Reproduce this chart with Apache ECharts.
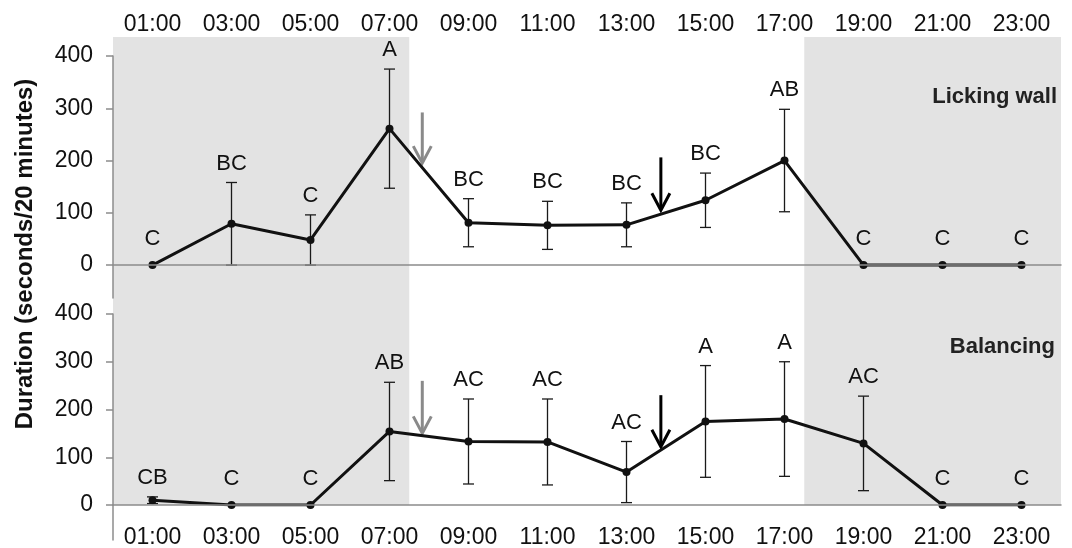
<!DOCTYPE html>
<html>
<head>
<meta charset="utf-8">
<script src="https://cdn.jsdelivr.net/npm/echarts@6/dist/echarts.min.js"></script>
<style>html,body{margin:0;padding:0;background:#fff}#c{width:1072px;height:548px}</style>
</head>
<body>
<div id="c"></div>
<script>
const hours = ['01:00','03:00','05:00','07:00','09:00','11:00','13:00','15:00','17:00','19:00','21:00','23:00'];
const lickMean = [0, 79, 48, 261, 81, 76, 77, 124, 200, 0, 0, 0];
const lickErr  = [0, 79, 48, 114, 46, 46, 42, 52, 98, 0, 0, 0];
const lickLetters = ['C','BC','C','A','BC','BC','BC','BC','AB','C','C','C'];
const balMean = [10, 0, 0, 154, 133, 132, 69, 175, 180, 129, 0, 0];
const balErr  = [7, 0, 0, 103, 89, 90, 64, 117, 120, 99, 0, 0];
const balLetters = ['CB','C','C','AB','AC','AC','AC','A','A','AC','C','C'];
const yTicks = [0, 100, 200, 300, 400];
const nightSpans = [[0, 7.5], [17.5, 24]];
// [hour, from value, to value]
const lickArrows = [[7.83, 292, 195], [13.87, 206, 105]];
const balArrows  = [[7.83, 260, 150], [13.87, 230, 122]];
const arrowColors = ['#8a8a8a', '#000000'];

const FONT = 'Liberation Sans, Arial, sans-serif';
const chart = echarts.init(document.getElementById('c'), null, {renderer: 'canvas'});

function errRender(letters) {
  return function (params, api) {
    const i = api.value(0), m = api.value(1), e = api.value(2);
    const p = api.coord([i, m]);
    const children = [];
    let ty;
    if (e > 0) {
      const t = api.coord([i, m + e]);
      const b = api.coord([i, Math.max(m - e, 0)]);
      const st = {stroke: '#1a1a1a', lineWidth: 1.3};
      children.push({type: 'line', shape: {x1: p[0], y1: t[1], x2: p[0], y2: b[1]}, style: st});
      children.push({type: 'line', shape: {x1: p[0] - 5.5, y1: t[1], x2: p[0] + 5.5, y2: t[1]}, style: st});
      children.push({type: 'line', shape: {x1: p[0] - 5.5, y1: b[1], x2: p[0] + 5.5, y2: b[1]}, style: st});
      ty = t[1] - 19;
    } else {
      ty = p[1] - 26;
    }
    children.push({type: 'text', style: {text: letters[params.dataIndex], x: p[0], y: ty,
      font: '22px ' + FONT, fill: '#111', align: 'center', verticalAlign: 'middle',
      textAlign: 'center', textVerticalAlign: 'middle'}});
    return {type: 'group', children: children};
  };
}

function arrowRender(params, api) {
  const x = api.value(0);
  const a = api.coord([x, api.value(1)]);
  const b = api.coord([x, api.value(2)]);
  const col = arrowColors[params.dataIndex];
  const st = {stroke: col, lineWidth: 3, fill: null, lineJoin: 'miter'};
  return {type: 'group', children: [
    {type: 'line', shape: {x1: a[0], y1: a[1], x2: b[0], y2: b[1] - 2}, style: st},
    {type: 'polyline', shape: {points: [[b[0] - 9, b[1] - 17], [b[0], b[1]], [b[0] + 9, b[1] - 17]]}, style: st}
  ]};
}

function shadeRender(params, api) {
  const p1 = api.coord([api.value(0), 1]);
  const p2 = api.coord([api.value(1), 0]);
  return {type: 'rect', shape: {x: p1[0], y: p1[1], width: p2[0] - p1[0], height: p2[1] - p1[1]},
    style: {fill: '#e3e3e3'}};
}

const axisGray = '#8c8c8c';
function yAxisCfg(grid, min) {
  return {
    type: 'value', gridIndex: grid, min: min, max: 400, z: 5,
    splitLine: {show: false},
    axisLine: {show: true, onZero: false, lineStyle: {color: axisGray, width: 1.5}},
    axisTick: {show: true, inside: false, length: 7, customValues: yTicks, lineStyle: {color: axisGray, width: 1.5}},
    axisLabel: {customValues: yTicks, margin: 20, fontSize: 23, fontFamily: FONT, color: '#111'}
  };
}

const option = {
  animation: false,
  backgroundColor: '#ffffff',
  grid: [
    {left: 113, right: 11, top: 56, bottom: 250, outerBoundsMode: 'none', containLabel: false},
    {left: 113, right: 11, top: 314, bottom: 43, outerBoundsMode: 'none', containLabel: false},
    {left: 113, right: 11, top: 37, bottom: 43, outerBoundsMode: 'none', containLabel: false},
    {left: 113, right: 11, top: 505, bottom: 8, outerBoundsMode: 'none', containLabel: false}
  ],
  xAxis: [
    {type: 'category', gridIndex: 0, data: hours, position: 'top', z: 5,
      axisLine: {show: false, onZero: false}, axisTick: {show: false},
      axisLabel: {interval: 0, margin: 20, fontSize: 23, fontFamily: FONT, color: '#111'}},
    {type: 'category', gridIndex: 0, data: hours, position: 'bottom', z: 5,
      axisLine: {show: true, onZero: true, lineStyle: {color: axisGray, width: 1.5}},
      axisTick: {show: false}, axisLabel: {show: false}},
    {type: 'value', gridIndex: 0, min: 0, max: 24, show: false},
    {type: 'category', gridIndex: 1, data: hours, position: 'bottom', z: 5,
      axisLine: {show: true, onZero: false, lineStyle: {color: axisGray, width: 1.5}},
      axisTick: {show: false},
      axisLabel: {interval: 0, margin: 21, fontSize: 23, fontFamily: FONT, color: '#111'}},
    {type: 'value', gridIndex: 1, min: 0, max: 24, show: false},
    {type: 'value', gridIndex: 2, min: 0, max: 24, show: false},
    {type: 'value', gridIndex: 3, min: 0, max: 24, show: false}
  ],
  yAxis: [
    yAxisCfg(0, -63),
    yAxisCfg(1, 0),
    {type: 'value', gridIndex: 2, min: 0, max: 1, show: false},
    {type: 'value', gridIndex: 3, min: 0, max: 1, z: 5,
      axisLine: {show: true, onZero: false, lineStyle: {color: axisGray, width: 1.5}},
      axisTick: {show: false}, axisLabel: {show: false}, splitLine: {show: false}}
  ],
  graphic: [
    {type: 'text', x: 1057, y: 97, style: {text: 'Licking wall', font: 'bold 22px ' + FONT, fill: '#222',
      align: 'right', verticalAlign: 'middle', textAlign: 'right', textVerticalAlign: 'middle'}, z: 10},
    {type: 'text', x: 1055, y: 347, style: {text: 'Balancing', font: 'bold 22px ' + FONT, fill: '#222',
      align: 'right', verticalAlign: 'middle', textAlign: 'right', textVerticalAlign: 'middle'}, z: 10},
    {type: 'text', x: 25, y: 254, rotation: Math.PI / 2, style: {text: 'Duration (seconds/20 minutes)',
      font: 'bold 24px ' + FONT, fill: '#111', align: 'center', verticalAlign: 'middle',
      textAlign: 'center', textVerticalAlign: 'middle'}, z: 10}
  ],
  series: [
    {type: 'custom', xAxisIndex: 5, yAxisIndex: 2, z: 1, silent: true, renderItem: shadeRender, data: nightSpans, clip: false},
    {type: 'custom', xAxisIndex: 0, yAxisIndex: 0, z: 3, renderItem: errRender(lickLetters),
      data: lickMean.map((m, i) => [i, m, lickErr[i]]), clip: false},
    {type: 'line', xAxisIndex: 0, yAxisIndex: 0, z: 4, data: lickMean, symbol: 'circle', symbolSize: 8,
      lineStyle: {color: '#111', width: 3}, itemStyle: {color: '#111'}},
    {type: 'custom', xAxisIndex: 2, yAxisIndex: 0, z: 4, renderItem: arrowRender, data: lickArrows, clip: false},
    {type: 'custom', xAxisIndex: 3, yAxisIndex: 1, z: 3, renderItem: errRender(balLetters),
      data: balMean.map((m, i) => [i, m, balErr[i]]), clip: false},
    {type: 'line', xAxisIndex: 3, yAxisIndex: 1, z: 4, data: balMean, symbol: 'circle', symbolSize: 8,
      lineStyle: {color: '#111', width: 3}, itemStyle: {color: '#111'}},
    {type: 'custom', xAxisIndex: 4, yAxisIndex: 1, z: 4, renderItem: arrowRender, data: balArrows, clip: false}
  ]
};
chart.setOption(option);
</script>
</body>
</html>
